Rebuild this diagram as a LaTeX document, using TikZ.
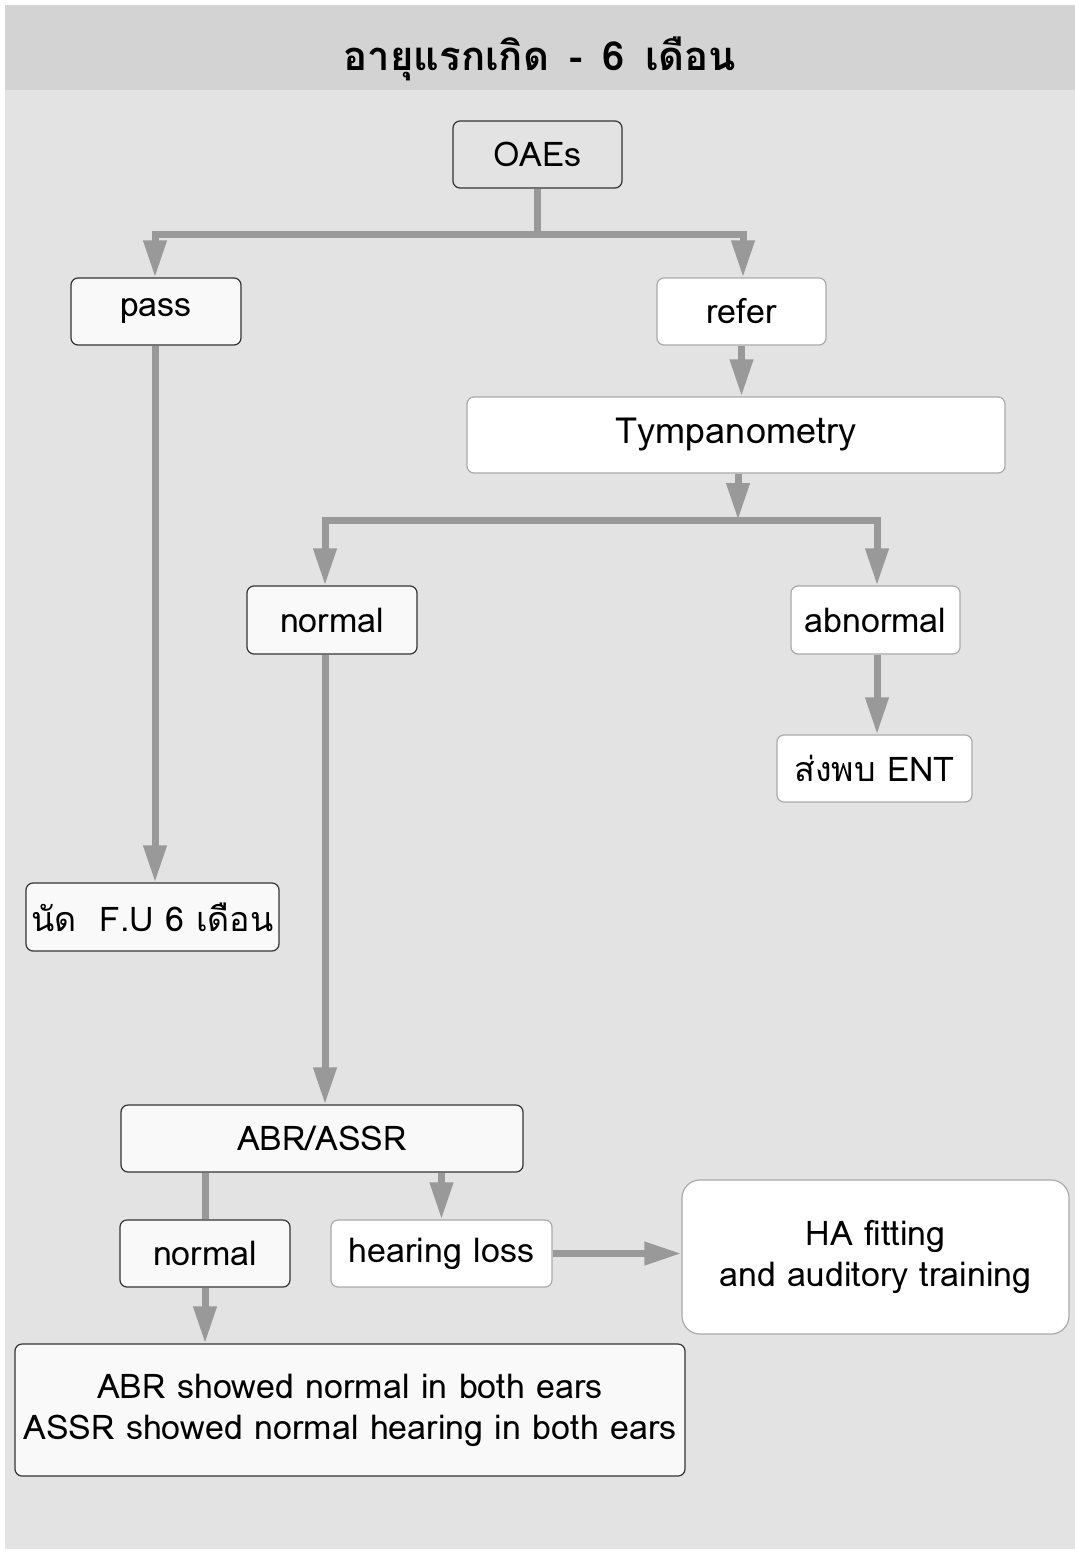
\documentclass[tikz,border=0pt]{standalone}
\usepackage{fontspec}
\setmainfont[Script=Thai]{Loma}
\usetikzlibrary{arrows.meta}
\definecolor{pagebg}{HTML}{E3E3E3}
\definecolor{bandbg}{HTML}{D3D3D3}
\definecolor{darkedge}{HTML}{333333}
\definecolor{lightedge}{HTML}{AAAAAA}
\definecolor{boxfill}{HTML}{F9F9F9}
\definecolor{linkgray}{HTML}{999999}
\tikzset{
  box/.style={rectangle, rounded corners=7pt, line width=1.2pt, inner sep=0pt,
    align=center, font=\fontsize{34}{41}\selectfont, text=black},
  darkbox/.style={box, draw=darkedge, fill=boxfill},
  lightbox/.style={box, draw=lightedge, fill=white},
  link/.style={draw=linkgray, line width=7pt, line join=miter},
  arr/.style={link, -{Triangle[length=37pt,width=22pt]}},
}
\begin{document}
\begin{tikzpicture}[x=1pt,y=-1pt]
  % page, background and title band
  \fill[white] (0,0) rectangle (1075,1554);
  \useasboundingbox (0,0) rectangle (1075,1554);
  \fill[pagebg] (5,5) rectangle (1075,1549);
  \fill[bandbg] (5,5) rectangle (1075,90);
  \node[font=\fontsize{40}{46}\selectfont\bfseries] (title) at (540,59) {อายุแรกเกิด \,-\, 6 \,เดือน};

  % boxes
  \node[box, draw=darkedge, fill=pagebg, minimum width=169pt, minimum height=67pt] (oaes) at (537.5,154.5) {OAEs};
  \node[darkbox, minimum width=170pt, minimum height=67pt] (pass) at (156,311.5) {pass};
  \node[lightbox, minimum width=169pt, minimum height=67pt] (refer) at (741.5,311.5) {refer};
  \node[lightbox, minimum width=538pt, minimum height=76pt, font=\fontsize{36}{41}\selectfont] (tymp) at (736,435) {Tympanometry};
  \node[darkbox, minimum width=170pt, minimum height=68pt] (normal) at (332,620) {normal};
  \node[lightbox, minimum width=169pt, minimum height=68pt] (abnormal) at (875.5,620) {abnormal};
  \node[lightbox, minimum width=195pt, minimum height=67pt] (ent) at (874.5,768.5) {ส่งพบ ENT};
  \node[darkbox, minimum width=253pt, minimum height=68pt] (fu) at (152.5,917) {นัด \ F.U 6 เดือน};
  \node[darkbox, minimum width=402pt, minimum height=67pt] (abr) at (322,1138.5) {ABR/ASSR};
  \node[darkbox, minimum width=170pt, minimum height=67pt] (normtwo) at (205,1253.5) {normal};
  \node[lightbox, minimum width=221pt, minimum height=67pt] (hl) at (441.5,1253.5) {hearing loss};
  \node[lightbox, rounded corners=18pt, minimum width=387pt, minimum height=154pt] (ha) at (875.5,1257) {HA fitting\\and auditory training};
  \node[darkbox, minimum width=670pt, minimum height=132pt] (result) at (350,1410) {ABR showed normal in both ears\\ASSR showed normal hearing in both ears};

  % junctions
  \coordinate (splitone) at (537.5,235);
  \coordinate (splittwo) at (738,520);

  % connectors
  \draw[link] (oaes.south) -- (splitone);
  \draw[arr] (splitone) -| (pass.north -| 155,0);
  \draw[arr] (splitone) -| (refer.north -| 743,0);
  \draw[arr] (refer.south) -- (tymp.north -| refer.south);
  \draw[arr] (tymp.south -| splittwo) -- (splittwo);
  \draw[arr] (splittwo) -| (normal.north -| 325,0);
  \draw[arr] (splittwo) -| (abnormal.north -| 877,0);
  \draw[arr] (abnormal.south -| 877,0) -- (ent.north -| 877,0);
  \draw[arr] (pass.south -| 155,0) -- (fu.north -| 155,0);
  \draw[arr] (normal.south -| 325,0) -- (abr.north -| 325,0);
  \draw[link] (abr.south -| normtwo.north) -- (normtwo.north);
  \draw[arr] (abr.south -| hl.north) -- (hl.north);
  \draw[arr] (hl.east) -- (ha.west |- hl.east);
  \draw[arr] (normtwo.south) -- (result.north -| normtwo.south);
\end{tikzpicture}
\end{document}
